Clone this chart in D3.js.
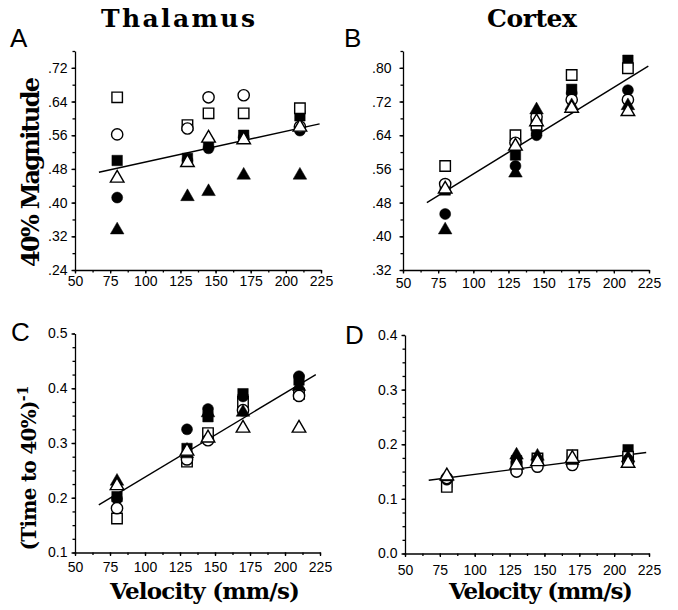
<!DOCTYPE html>
<html>
<head>
<script src="https://cdn.jsdelivr.net/npm/d3@7"></script>
<style>
  body { margin: 0; background: #fff; }
  .tick text { font-family: "Liberation Sans", Arial, sans-serif; font-size: 14px; fill: #000; }
  .domain, .tick line { stroke: #000; stroke-width: 1.3px; }
  .serif { font-family: "DejaVu Serif", "Liberation Serif", serif; font-weight: bold; fill: #000; }
  .letter { font-family: "Liberation Sans", Arial, sans-serif; font-size: 26px; fill: #000; }
</style>
</head>
<body>
<svg width="678" height="610"></svg>
<script>
// velocities (mm/s)
const velocity = [80, 130, 145, 170, 210];

// series order: filled square, open square, filled circle, open circle, filled triangle, open triangle
const magThalamus = [
  [0.500, 0.505, 0.540, 0.560, 0.606],
  [0.650, 0.584, 0.612, 0.612, 0.624],
  [0.412, 0.500, 0.529, 0.555, 0.571],
  [0.562, 0.576, 0.650, 0.655, 0.580],
  [0.335, 0.414, 0.426, 0.465, 0.465],
  [0.458, 0.495, 0.553, 0.549, 0.579]
];
const magCortex = [
  [0.510, 0.593, 0.655, 0.749, 0.818],
  [0.567, 0.640, 0.665, 0.783, 0.799],
  [0.453, 0.567, 0.640, 0.740, 0.747],
  [0.524, 0.622, 0.684, 0.724, 0.724],
  [0.415, 0.550, 0.700, 0.710, 0.710],
  [0.512, 0.614, 0.672, 0.704, 0.696]
];
const rateThalamus = [
  [0.202, 0.290, 0.348, 0.390, 0.415],
  [0.162, 0.266, 0.318, 0.375, 0.390],
  [0.198, 0.325, 0.362, 0.385, 0.422],
  [0.181, 0.270, 0.305, 0.360, 0.386],
  [0.230, 0.280, 0.355, 0.356, 0.403],
  [0.222, 0.285, 0.309, 0.327, 0.327]
];
const rateCortex = [
  [0.130, 0.170, 0.172, 0.175, 0.190],
  [0.122, 0.158, 0.174, 0.180, 0.177],
  [0.135, 0.168, 0.165, 0.168, 0.172],
  [0.138, 0.150, 0.159, 0.162, 0.168],
  [0.140, 0.180, 0.178, 0.170, 0.175],
  [0.142, 0.162, 0.168, 0.174, 0.165]
];

// regression lines, [velocity, value] end points
const fitThalamusMag = [[67, 0.472], [224, 0.587]];
const fitCortexMag = [[67, 0.480], [224.5, 0.804]];
const fitThalamusRate = [[67, 0.187], [222, 0.425]];
const fitCortexRate = [[67, 0.134], [223, 0.185]];

// ticks
const xTicks = [50, 75, 100, 125, 150, 175, 200, 225];
const xMinor = d3.range(50, 226, 12.5);
const yTicksA = [0.24, 0.32, 0.40, 0.48, 0.56, 0.64, 0.72];
const yTicksB = [0.32, 0.40, 0.48, 0.56, 0.64, 0.72, 0.80];
const yTicksC = [0.1, 0.2, 0.3, 0.4, 0.5];
const yTicksD = [0.0, 0.1, 0.2, 0.3, 0.4];

const svg = d3.select("svg");

const shapes = [
  { type: d3.symbolSquare, size: 110, filled: true },
  { type: d3.symbolSquare, size: 110, filled: false },
  { type: d3.symbolCircle, size: 95, filled: true },
  { type: d3.symbolCircle, size: 100, filled: false },
  { type: d3.symbolTriangle, size: 80, filled: true },
  { type: d3.symbolTriangle, size: 80, filled: false }
];

const fmtDot = d => d3.format(".2f")(d).replace(/^0/, "");
const fmt1 = d3.format(".1f");

const panels = [
  { letter: "A", lx: 10, ly: 47, left: 75, right: 321, bottom: 270, top: 51, yDomain: [0.24, 0.76],
    yTicks: yTicksA, yStep: 0.04, fmt: fmtDot, yPad: 4, xPad: 3, data: magThalamus, fit: fitThalamusMag },
  { letter: "B", lx: 344, ly: 47, left: 403, right: 649, bottom: 270, top: 51, yDomain: [0.32, 0.84],
    yTicks: yTicksB, yStep: 0.04, fmt: fmtDot, yPad: 8, xPad: 5, data: magCortex, fit: fitCortexMag },
  { letter: "C", lx: 11, ly: 341, left: 75, right: 320, bottom: 552.5, top: 333.5, yDomain: [0.1, 0.5],
    yTicks: yTicksC, yStep: 0.025, fmt: fmt1, yPad: 4, xPad: 6, data: rateThalamus, fit: fitThalamusRate },
  { letter: "D", lx: 345, ly: 344, left: 405, right: 649, bottom: 553.5, top: 335, yDomain: [0.0, 0.4],
    yTicks: yTicksD, yStep: 0.025, fmt: fmt1, yPad: 4, xPad: 8, data: rateCortex, fit: fitCortexRate }
];

panels.forEach(p => {
  const x = d3.scaleLinear().domain([50, 225]).range([p.left, p.right]);
  const y = d3.scaleLinear().domain(p.yDomain).range([p.bottom, p.top]);
  const g = svg.append("g");

  // minor ticks
  const yMinor = d3.range(0, Math.round((p.yDomain[1] - p.yDomain[0]) / p.yStep) + 1)
    .map(i => p.yDomain[0] + i * p.yStep);
  g.append("g").attr("transform", `translate(${p.left},0)`)
    .call(d3.axisLeft(y).tickValues(yMinor).tickSize(2.5).tickFormat(""))
    .select(".domain").remove();
  g.append("g").attr("transform", `translate(0,${p.bottom})`)
    .call(d3.axisBottom(x).tickValues(xMinor).tickSize(2.5).tickFormat(""))
    .select(".domain").remove();

  // main axes
  g.append("g").attr("transform", `translate(${p.left},0)`)
    .call(d3.axisLeft(y).tickValues(p.yTicks).tickSize(3.5).tickSizeOuter(0)
      .tickPadding(p.yPad).tickFormat(p.fmt))
    .attr("font-size", null).attr("font-family", null);
  g.append("g").attr("transform", `translate(0,${p.bottom})`)
    .call(d3.axisBottom(x).tickValues(xTicks).tickSize(3.5).tickSizeOuter(0)
      .tickPadding(p.xPad))
    .attr("font-size", null).attr("font-family", null);

  // regression line
  g.append("path")
    .attr("d", d3.line().x(d => x(d[0])).y(d => y(d[1]))(p.fit))
    .attr("fill", "none").attr("stroke", "#000").attr("stroke-width", 1.4);

  // points
  p.data.forEach((series, i) => {
    const s = shapes[i];
    g.append("g").selectAll("path")
      .data(series)
      .join("path")
      .attr("transform", (d, j) => `translate(${x(velocity[j])},${y(d)})`)
      .attr("d", d3.symbol().type(s.type).size(s.size))
      .attr("fill", s.filled ? "#000" : "#fff")
      .attr("stroke", "#000")
      .attr("stroke-width", s.filled ? 0.5 : 1.4);
  });

  g.append("text").attr("class", "letter").attr("x", p.lx).attr("y", p.ly).text(p.letter);
});

// titles and axis labels
svg.append("text").attr("class", "serif").attr("x", 178).attr("y", 27)
  .attr("text-anchor", "middle").attr("font-size", 25)
  .attr("textLength", 154).text("Thalamus");
svg.append("text").attr("class", "serif").attr("x", 532).attr("y", 27)
  .attr("text-anchor", "middle").attr("font-size", 25)
  .attr("textLength", 90).text("Cortex");

svg.append("text").attr("class", "serif")
  .attr("transform", "translate(39,172) rotate(-90)")
  .attr("text-anchor", "middle").attr("font-size", 24)
  .attr("textLength", 190).text("40% Magnitude");

const rateLabel = svg.append("text").attr("class", "serif")
  .attr("transform", "translate(36,468) rotate(-90)")
  .attr("text-anchor", "middle").attr("font-size", 20);
rateLabel.append("tspan").attr("textLength", 150).text("(Time to 40%)");
rateLabel.append("tspan").attr("dy", -8).attr("font-size", 14).text("-1");

svg.append("text").attr("class", "serif").attr("x", 205).attr("y", 599)
  .attr("text-anchor", "middle").attr("font-size", 23)
  .attr("textLength", 190).text("Velocity (mm/s)");
svg.append("text").attr("class", "serif").attr("x", 541).attr("y", 599)
  .attr("text-anchor", "middle").attr("font-size", 23)
  .attr("textLength", 184).text("Velocity (mm/s)");
</script>
</body>
</html>
